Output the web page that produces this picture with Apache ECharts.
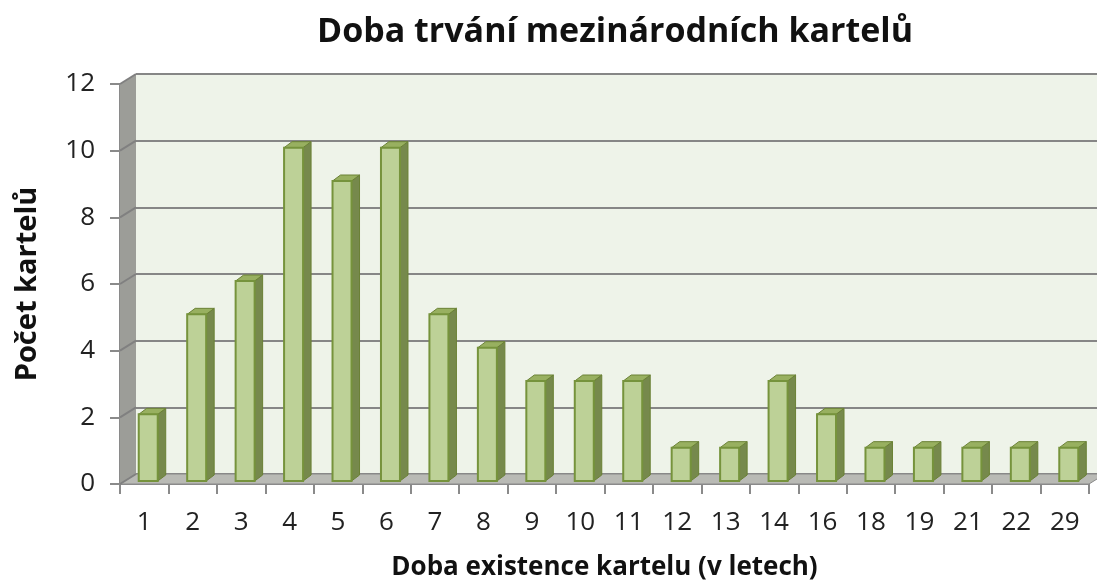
<!DOCTYPE html>
<html><head><meta charset="utf-8">
<script src="https://cdn.jsdelivr.net/npm/echarts@6/dist/echarts.min.js"></script>
<style>html,body{margin:0;padding:0;background:#fff}#c{width:1097px;height:588px}</style>
</head><body><div id="c"></div>
<script>
var categories = ['1','2','3','4','5','6','7','8','9','10','11','12','13','14','16','18','19','21','22','29'];
var values = [2,5,6,10,9,10,5,4,3,3,3,1,1,3,2,1,1,1,1,1];
var yTicks = [0,2,4,6,8,10,12];

var DX = 16, DY = -10; // wall depth
var chart = echarts.init(document.getElementById('c'));

function wallRender(params, api) {
  if (params.dataIndex !== 0) return null;
  var bw = api.size([1, 0])[0];
  var p0 = api.coord([0, 0]);
  var pN = api.coord([categories.length - 1, 0]);
  var pTop = api.coord([0, 12]);
  var xl = p0[0] - bw / 2, xr = pN[0] + bw / 2;
  var yb = p0[1], yt = pTop[1];
  var children = [];
  children.push({type: 'polygon', shape: {points: [[xl, yt], [xl + DX, yt + DY], [xl + DX, yb + DY], [xl, yb]]},
    style: {fill: '#9c9d98'}});
  children.push({type: 'polygon', shape: {points: [[xl, yb], [xl + DX, yb + DY], [xr + DX, yb + DY], [xr, yb]]},
    style: {fill: '#b9bab5', stroke: '#8a8a8a', lineWidth: 1}});
  for (var i = 0; i < yTicks.length; i++) {
    var y = api.coord([0, yTicks[i]])[1];
    children.push({type: 'line', shape: {x1: xl, y1: y, x2: xl + DX, y2: y + DY},
      style: {stroke: '#808080', lineWidth: 2}});
  }
  return {type: 'group', children: children};
}

function barRender(params, api) {
  var i = api.value(0), v = api.value(1);
  var top = api.coord([i, v]);
  var bot = api.coord([i, 0]);
  var w = 19, sx = 4, sy = -3, ddx = 8, ddy = -6;
  var x0 = top[0] - w / 2 + sx, x1 = x0 + w;
  var yt = top[1] + sy, yb = bot[1] + sy;
  return {type: 'group', children: [
    {type: 'polygon', shape: {points: [[x1, yt], [x1 + ddx, yt + ddy], [x1 + ddx, yb + ddy], [x1, yb]]},
      style: {fill: '#76894c', stroke: '#6a8135', lineWidth: 1}},
    {type: 'polygon', shape: {points: [[x0, yt], [x0 + ddx, yt + ddy], [x1 + ddx, yt + ddy], [x1, yt]]},
      style: {fill: '#98b060', stroke: '#6a8135', lineWidth: 1}},
    {type: 'rect', shape: {x: x0, y: yt, width: w, height: yb - yt},
      style: {fill: '#bdd197', stroke: '#76933c', lineWidth: 2}}
  ]};
}

var option = {
  animation: false,
  title: {text: 'Doba trvání mezinárodních kartelů', left: 610, top: 10, textAlign: 'center',
    textStyle: {fontFamily: 'Open Sans', fontWeight: 'bold', fontSize: 34, color: '#111'}},
  grid: [
    {left: 120, right: 8, top: 84, bottom: 104},
    {left: 136, right: -8, top: 74, bottom: 114, show: true, backgroundColor: '#eef3e9', borderWidth: 0}
  ],
  xAxis: [
    {type: 'category', gridIndex: 0, data: categories,
      axisLine: {lineStyle: {color: '#8a8a8a', width: 2}},
      axisTick: {show: true, length: 10, lineStyle: {color: '#8a8a8a', width: 2}},
      axisLabel: {margin: 26, fontFamily: 'Open Sans', fontSize: 26, color: '#222'},
      name: 'Doba existence kartelu (v letech)', nameLocation: 'middle', nameGap: 71,
      nameTextStyle: {fontFamily: 'Open Sans', fontWeight: 'bold', fontSize: 26, color: '#111'}},
    {type: 'category', gridIndex: 1, data: categories, show: false}
  ],
  yAxis: [
    {type: 'value', gridIndex: 0, min: 0, max: 12, interval: 2,
      axisLine: {show: true, lineStyle: {color: '#8a8a8a', width: 2}},
      axisTick: {show: true, length: 10, lineStyle: {color: '#8a8a8a', width: 2}},
      splitLine: {show: false},
      axisLabel: {margin: 25, fontFamily: 'Open Sans', fontSize: 26, color: '#222'},
      name: 'Počet kartelů', nameLocation: 'middle', nameGap: 78,
      nameTextStyle: {fontFamily: 'Open Sans', fontWeight: 'bold', fontSize: 29, color: '#111'}},
    {type: 'value', gridIndex: 1, min: 0, max: 12, interval: 2,
      axisLine: {show: false}, axisTick: {show: false}, axisLabel: {show: false},
      splitLine: {show: true, lineStyle: {color: '#868686', width: 2}}}
  ],
  series: [
    {type: 'custom', xAxisIndex: 0, yAxisIndex: 0, z: 1, silent: true,
      data: values.map(function (v, i) { return [i, v]; }), renderItem: wallRender},
    {type: 'custom', xAxisIndex: 0, yAxisIndex: 0, z: 5,
      data: values.map(function (v, i) { return [i, v]; }), renderItem: barRender}
  ]
};
chart.setOption(option);
</script></body></html>
